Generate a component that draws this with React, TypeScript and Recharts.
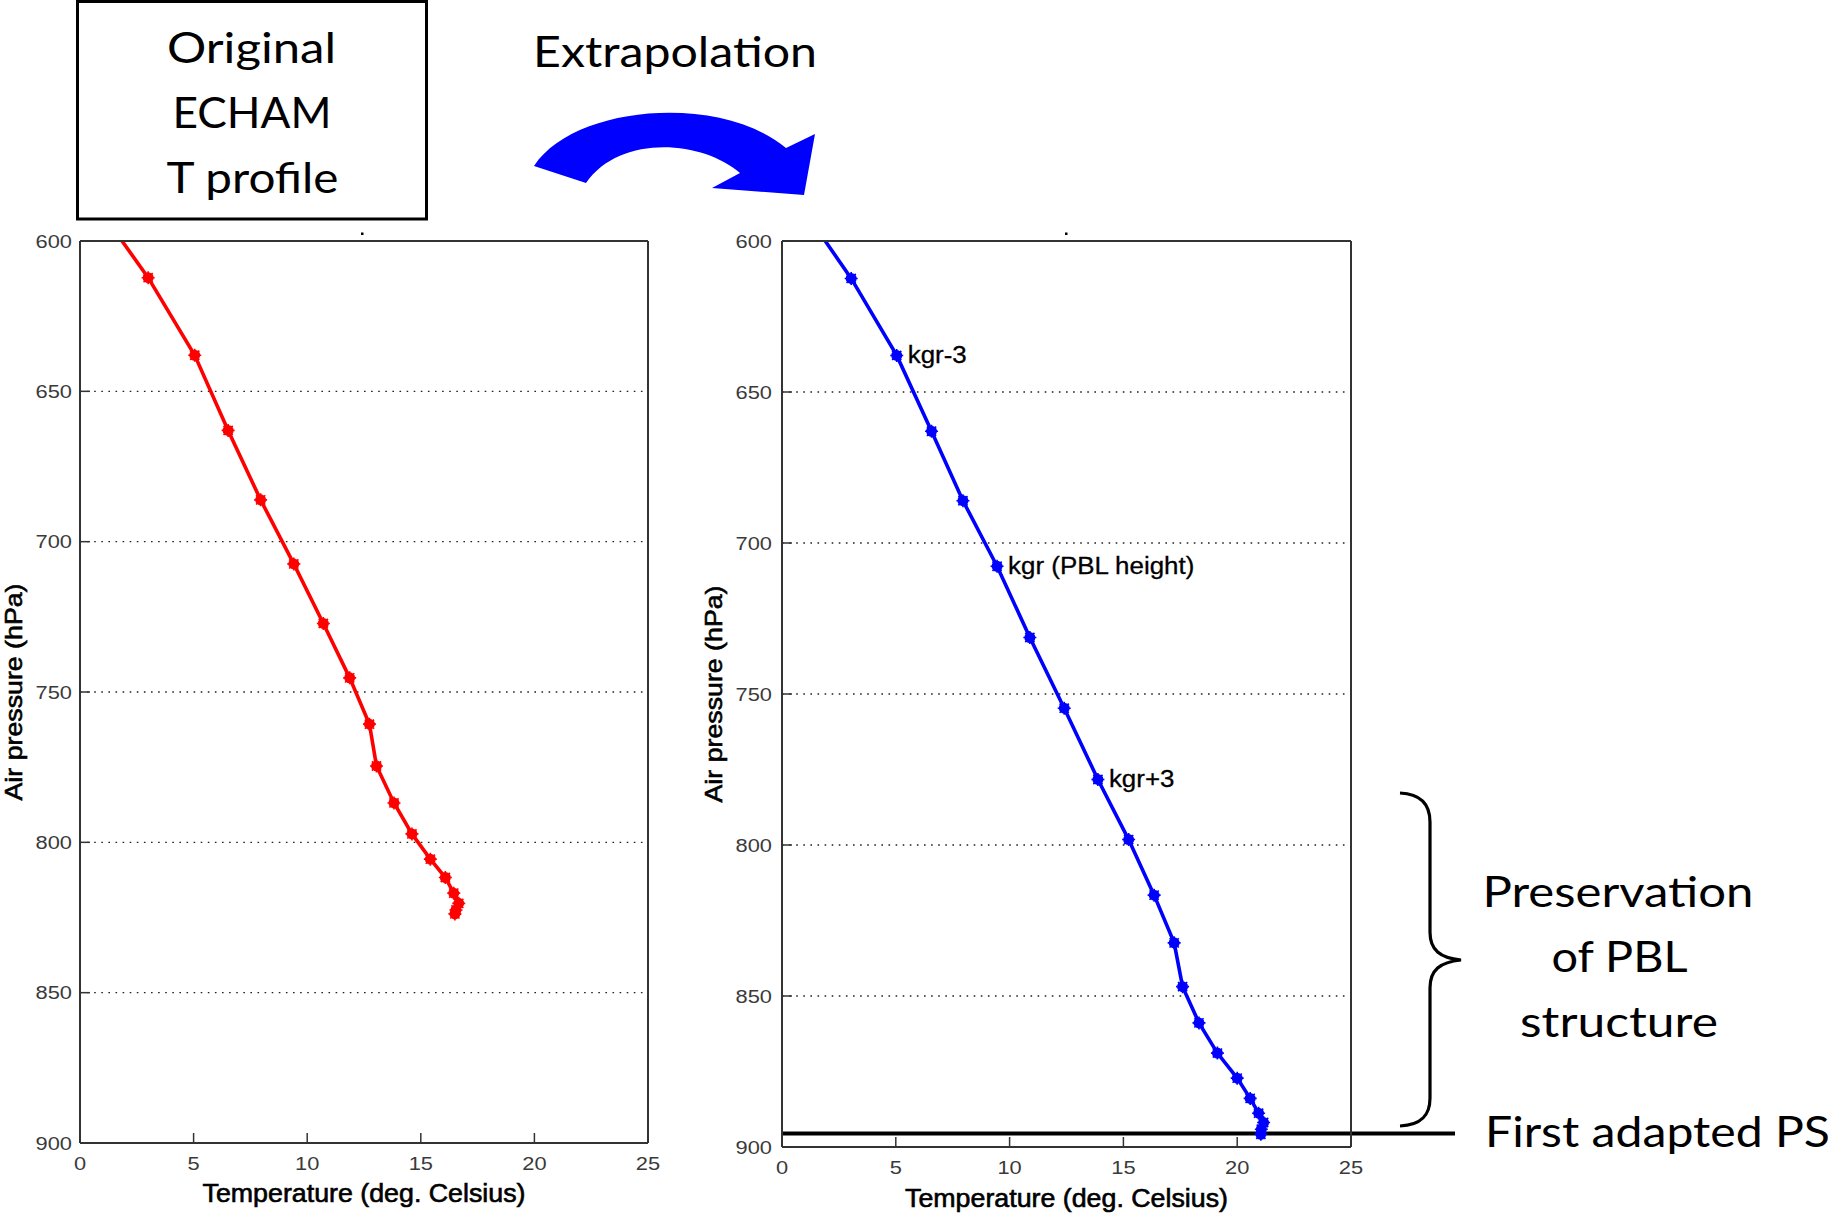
import React from 'react';
import { LineChart, Line, XAxis, YAxis, CartesianGrid, ReferenceLine, LabelList } from 'recharts';

// ---- data ----
const tempTicks = [0, 5, 10, 15, 20, 25];
const pressureTicks = [600, 650, 700, 750, 800, 850, 900];

// Original ECHAM T profile (red)
const echamT = [1.85, 3.0, 5.05, 6.52, 7.95, 9.41, 10.71, 11.87, 12.74, 13.05, 13.82, 14.61, 15.42, 16.08, 16.45, 16.67, 16.55, 16.5];
const echamP = [600, 612.2, 638.0, 663.0, 686.1, 707.4, 727.2, 745.3, 760.7, 774.6, 786.9, 797.2, 805.6, 811.7, 816.9, 820.3, 822.5, 823.8];

// Extrapolated profile (blue)
const extrapT = [1.9, 3.04, 5.04, 6.57, 7.95, 9.45, 10.89, 12.4, 13.88, 15.23, 16.35, 17.23, 17.6, 18.32, 19.13, 20.0, 20.57, 20.94, 21.16, 21.06, 21.04];
const extrapP = [600, 612.4, 637.9, 663.0, 686.0, 707.7, 731.3, 754.7, 778.3, 798.2, 816.6, 832.4, 846.9, 858.9, 868.9, 877.2, 883.9, 888.8, 891.9, 894.1, 895.8];
const extrapLabels = ['', '', 'kgr-3', '', '', 'kgr (PBL height)', '', '', 'kgr+3', '', '', '', '', '', '', '', '', '', '', '', ''];

const firstAdaptedPS = 895.5;

const xTitle = 'Temperature (deg. Celsius)';
const yTitle = 'Air pressure (hPa)';

const echamData = echamT.map((t, i) => ({ t, p: echamP[i] }));
const extrapData = extrapT.map((t, i) => ({ t, p: extrapP[i], label: extrapLabels[i] }));

// ---- styles ----
const AXIS_FONT = "'Liberation Sans', Arial, Helvetica, sans-serif";
const BIG_FONT = "Lato, 'Open Sans', sans-serif";
const axisLineStyle = { stroke: '#333', strokeWidth: 2 };
const tickLineStyle = { stroke: '#333', strokeWidth: 1.5 };

const makeDot = (color: string) => (props: any) => {
  const { cx, cy, index } = props;
  if (index === 0 || cx == null || cy == null) return <g key={`dot-${index}`} />;
  const r = 6.5;
  const d = 4.6;
  return (
    <g key={`dot-${index}`}>
      <circle cx={cx} cy={cy} r={5.5} fill={color} />
      <path
        d={`M${cx - r},${cy}H${cx + r}M${cx},${cy - r}V${cy + r}M${cx - d},${cy - d}L${cx + d},${cy + d}M${cx - d},${cy + d}L${cx + d},${cy - d}`}
        stroke={color}
        strokeWidth={1.6}
      />
    </g>
  );
};

const XTick = (props: any) => {
  const { x, y, payload } = props;
  return (
    <g transform={`translate(${x},${y + 19})`}>
      <text transform="scale(1.15,1)" textAnchor="middle" fontSize={19} fill="#3a3a3a" fontFamily={AXIS_FONT}>
        {payload.value}
      </text>
    </g>
  );
};

const YTick = (props: any) => {
  const { x, y, payload } = props;
  return (
    <g transform={`translate(${x},${y + 6.8})`}>
      <text transform="scale(1.15,1)" textAnchor="end" fontSize={19} fill="#3a3a3a" fontFamily={AXIS_FONT}>
        {payload.value}
      </text>
    </g>
  );
};

const makeXTitle = (dy: number) => (props: any) => {
  const vb = props.viewBox || {};
  return (
    <text
      x={vb.x + vb.width / 2}
      y={vb.y + dy}
      textAnchor="middle"
      fontSize={25}
      fill="#000"
      stroke="#000"
      strokeWidth={0.6}
      fontFamily={AXIS_FONT}
      textLength={323}
      lengthAdjust="spacingAndGlyphs"
    >
      {xTitle}
    </text>
  );
};

const makeYTitle = (bx: number) => (props: any) => {
  const vb = props.viewBox || {};
  const cx = vb.x + bx;
  const cy = vb.y + vb.height / 2;
  return (
    <text
      transform={`translate(${cx},${cy}) rotate(-90)`}
      textAnchor="middle"
      fontSize={24}
      fill="#000"
      stroke="#000"
      strokeWidth={0.6}
      fontFamily={AXIS_FONT}
      textLength={217}
      lengthAdjust="spacingAndGlyphs"
    >
      {yTitle}
    </text>
  );
};

const renderKgr = (props: any) => {
  const { x, y, value } = props;
  if (!value) return null;
  return (
    <g transform={`translate(${x + 11},${y + 7.5})`}>
      <text transform="scale(1.08,1)" fontSize={24} fill="#000" stroke="#000" strokeWidth={0.3} fontFamily={AXIS_FONT}>
        {value}
      </text>
    </g>
  );
};

const PsLine = (props: any) => {
  const { x1, y1, x2, y2 } = props;
  return <line x1={x1} y1={y1} x2={x2 + 104} y2={y2} stroke="#000" strokeWidth={4} />;
};

interface PanelProps {
  data: any[];
  color: string;
  width: number;
  marginRight: number;
  yAxisWidth: number;
  xAxisHeight: number;
  marginBottom: number;
  yTickMargin: number;
  xTitleDy: number;
  withLabels?: boolean;
  withPs?: boolean;
}

const Panel = (p: PanelProps) => (
  <LineChart
    width={p.width}
    height={1215}
    data={p.data}
    margin={{ top: 240, right: p.marginRight, bottom: p.marginBottom, left: 0 }}
  >
    <CartesianGrid
      xAxisId="b"
      yAxisId="l"
      vertical={false}
      stroke="#222"
      strokeWidth={1.4}
      strokeDasharray="1.6 5.5"
    />
    <XAxis
      xAxisId="b"
      dataKey="t"
      type="number"
      domain={[0, 25]}
      ticks={tempTicks}
      interval={0}
      allowDataOverflow
      height={p.xAxisHeight}
      axisLine={axisLineStyle}
      tickLine={tickLineStyle}
      tickSize={-10}
      tickMargin={18}
      tick={<XTick />}
      label={makeXTitle(p.xTitleDy)}
    />
    <XAxis
      xAxisId="top"
      dataKey="t"
      orientation="top"
      type="number"
      domain={[0, 25]}
      ticks={tempTicks}
      interval={0}
      allowDataOverflow
      height={1}
      axisLine={axisLineStyle}
      tickLine={tickLineStyle}
      tickSize={-10}
      tick={false}
    />
    <YAxis
      yAxisId="l"
      type="number"
      domain={[600, 900]}
      reversed
      ticks={pressureTicks}
      interval={0}
      allowDataOverflow
      width={p.yAxisWidth}
      axisLine={axisLineStyle}
      tickLine={tickLineStyle}
      tickSize={-10}
      tickMargin={p.yTickMargin}
      tick={<YTick />}
      label={makeYTitle(22)}
    />
    <YAxis
      yAxisId="r"
      orientation="right"
      type="number"
      domain={[600, 900]}
      reversed
      ticks={pressureTicks}
      interval={0}
      allowDataOverflow
      width={1}
      axisLine={axisLineStyle}
      tickLine={tickLineStyle}
      tickSize={-10}
      tick={false}
    />
    {p.withPs && (
      <ReferenceLine xAxisId="b" yAxisId="l" y={firstAdaptedPS} ifOverflow="visible" shape={<PsLine />} />
    )}
    <Line
      xAxisId="b"
      yAxisId="l"
      dataKey="p"
      stroke={p.color}
      strokeWidth={3.6}
      dot={makeDot(p.color)}
      activeDot={false}
      isAnimationActive={false}
    >
      {p.withLabels && <LabelList dataKey="label" content={renderKgr} />}
    </Line>
  </LineChart>
);

const Overlay = () => (
  <svg width={1836} height={1215} style={{ position: 'absolute', left: 0, top: 0, pointerEvents: 'none' }}>
    {/* box */}
    <rect x={77.5} y={1.5} width={349} height={217.5} fill="none" stroke="#000" strokeWidth={3} />
    <text x={251.5} y={62.5} textAnchor="middle" fontFamily={BIG_FONT} fontSize={43} textLength={169} lengthAdjust="spacingAndGlyphs">Original</text>
    <text x={252} y={128} textAnchor="middle" fontFamily={BIG_FONT} fontSize={43} textLength={159} lengthAdjust="spacingAndGlyphs">ECHAM</text>
    <text x={252.5} y={193} textAnchor="middle" fontFamily={BIG_FONT} fontSize={43} textLength={172} lengthAdjust="spacingAndGlyphs">T profile</text>
    {/* Extrapolation + arrow */}
    <text x={533} y={67} fontFamily={BIG_FONT} fontSize={43} textLength={284} lengthAdjust="spacingAndGlyphs">Extrapolation</text>
    <path
      d="M534,166 C575,104 722,94 786,148 L815,134 L804,195 L712,188 L740,173 C702,140 620,134 586,183 Z"
      fill="#0000FF"
    />
    {/* tiny title dots */}
    <rect x={361} y={232.5} width={2.5} height={2.5} fill="#000" />
    <rect x={1065} y={232.5} width={2.5} height={2.5} fill="#000" />
    {/* brace */}
    <path
      d="M1400,793 C1422,794 1430,805 1430,822 L1430,932 C1430,950 1440,958 1461,960 C1440,962 1430,970 1430,988 L1430,1098 C1430,1115 1422,1125 1400,1126"
      fill="none"
      stroke="#000"
      strokeWidth={3.2}
    />
    <text x={1482.5} y={906.5} fontFamily={BIG_FONT} fontSize={43} textLength={271} lengthAdjust="spacingAndGlyphs">Preservation</text>
    <text x={1551.5} y={971.5} fontFamily={BIG_FONT} fontSize={43} textLength={136} lengthAdjust="spacingAndGlyphs">of PBL</text>
    <text x={1520} y={1036.5} fontFamily={BIG_FONT} fontSize={43} textLength={198} lengthAdjust="spacingAndGlyphs">structure</text>
    <text x={1485} y={1147} fontFamily={BIG_FONT} fontSize={43} textLength={345} lengthAdjust="spacingAndGlyphs">First adapted PS</text>
  </svg>
);

export default function App() {
  return (
    <div style={{ position: 'absolute', left: 0, top: 0, width: 1836, height: 1215, background: '#fff', overflow: 'hidden' }}>
      <div style={{ position: 'absolute', left: 0, top: 0 }}>
        <Panel
          data={echamData}
          color="#FF0000"
          width={700}
          marginRight={51}
          yAxisWidth={80}
          xAxisHeight={70}
          marginBottom={2}
          yTickMargin={18}
          xTitleDy={58.5}
        />
      </div>
      <div style={{ position: 'absolute', left: 700, top: 0 }}>
        <Panel
          data={extrapData}
          color="#0000FF"
          width={1136}
          marginRight={484}
          yAxisWidth={82}
          xAxisHeight={68}
          marginBottom={0}
          yTickMargin={20}
          xTitleDy={59.5}
          withLabels
          withPs
        />
      </div>
      <Overlay />
    </div>
  );
}
